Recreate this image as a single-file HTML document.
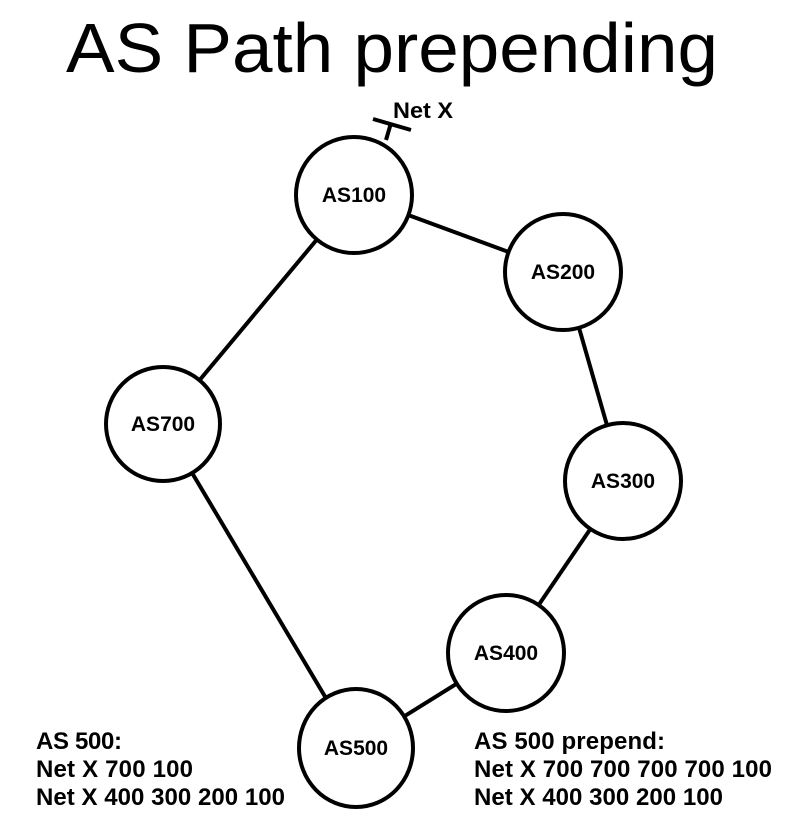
<!DOCTYPE html>
<html><head><style>html,body{margin:0;padding:0;background:#fff}svg{display:block}</style></head>
<body>
<svg width="793" height="825" viewBox="0 0 793 825" xmlns="http://www.w3.org/2000/svg">
<text x="66" y="72" font-family="Liberation Sans, sans-serif" font-size="70" textLength="652" lengthAdjust="spacingAndGlyphs">AS Path prepending</text>
<g stroke="#000" stroke-width="4" fill="none">
<line x1="354" y1="195" x2="563" y2="272"/>
<line x1="563" y1="272" x2="623" y2="481"/>
<line x1="623" y1="481" x2="506" y2="653"/>
<line x1="506" y1="653" x2="355" y2="747"/>
<line x1="355" y1="747" x2="163" y2="424"/>
<line x1="163" y1="424" x2="354" y2="195"/>
<line x1="386" y1="140" x2="391" y2="123"/>
<line x1="373" y1="119" x2="411" y2="130"/>
</g>
<g stroke="#000" stroke-width="4" fill="#fff">
<circle cx="354" cy="195" r="58"/>
<circle cx="563" cy="272" r="58"/>
<circle cx="623" cy="481" r="58"/>
<circle cx="163" cy="424" r="57"/>
<circle cx="506" cy="653" r="58"/>
<ellipse cx="356" cy="748" rx="57" ry="59"/>
</g>
<g font-family="Liberation Sans, sans-serif" font-weight="bold" font-size="21" text-anchor="middle">
<text x="354" y="202">AS100</text>
<text x="563" y="279">AS200</text>
<text x="623" y="488">AS300</text>
<text x="163" y="431">AS700</text>
<text x="506" y="660">AS400</text>
<text x="356" y="755">AS500</text>
</g>
<text x="393" y="118" font-family="Liberation Sans, sans-serif" font-weight="bold" font-size="22" textLength="60" lengthAdjust="spacingAndGlyphs">Net X</text>
<g font-family="Liberation Sans, sans-serif" font-weight="bold" font-size="24" lengthAdjust="spacingAndGlyphs">
<text x="36" y="749" textLength="86">AS 500:</text>
<text x="36" y="777" textLength="157">Net X 700 100</text>
<text x="36" y="805" textLength="249">Net X 400 300 200 100</text>
<text x="474" y="749" textLength="191">AS 500 prepend:</text>
<text x="474" y="777" textLength="298">Net X 700 700 700 700 100</text>
<text x="474" y="805" textLength="249">Net X 400 300 200 100</text>
</g>
</svg>
</body></html>
